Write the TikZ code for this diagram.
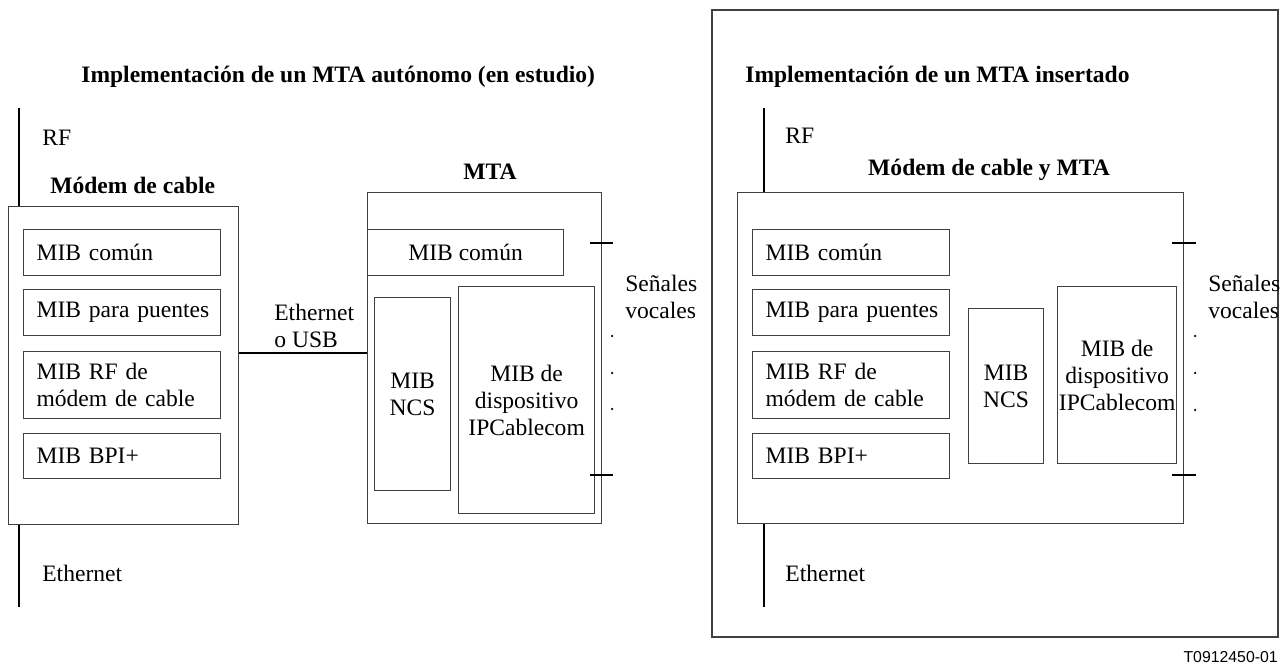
\documentclass[tikz,border=0pt]{standalone}
\usepackage{fontspec}
\setmainfont{Liberation Serif}
\newfontfamily\tagfont{Liberation Sans}
\usepackage{tikz}

\begin{document}
\begin{tikzpicture}[every node/.style={font=\fontsize{13.4}{15.4}\selectfont, inner sep=0pt},
				head/.style={font=\fontsize{13.4}{15.4}\selectfont\bfseries},
				box/.style={draw=black!75, line width=0.7pt, anchor=north west, align=center},
				mib/.style={box, text width=3.58cm, minimum width=3.94cm, inner xsep=0.18cm, align=left},
				wire/.style={line width=1.1pt},
				tickmark/.style={line width=1.1pt}]
				
				\useasboundingbox (0,0) rectangle (25.76,-13.32);
				
				% MTA autonomo
				\node[head, anchor=west] (t1) at (1.62,-1.54) {Implementación de un MTA autónomo (en estudio)};
				\node[anchor=west] (rf1) at (0.84,-2.76) {RF};
				\node[head, anchor=west] (l1) at (1.0,-3.70) {Módem de cable};
				\node[box, minimum width=4.6cm, minimum height=6.36cm] (cm) at (0.16,-4.12) {};
				\node[mib, minimum height=0.92cm] (cm1) at (0.46,-4.58) {\hspace*{0.08cm}MIB común};
				\node[mib, minimum height=0.92cm] (cm2) at (0.46,-5.78) {\hspace*{0.08cm}MIB para puentes};
				\node[mib, minimum height=1.34cm] (cm3) at (0.46,-7.02) {\hspace*{0.08cm}MIB RF de\\\hspace*{0.08cm}módem de cable};
				\node[mib, minimum height=0.90cm] (cm4) at (0.46,-8.66) {\hspace*{0.08cm}MIB BPI+};
				\node[anchor=west] (eth1) at (0.84,-11.46) {Ethernet};
				\coordinate (rfend1) at (0.38,-2.16);
				\coordinate (ethend1) at (0.38,-12.14);
				\draw[wire] (rfend1) -- (rfend1 |- cm.north);
				\draw[wire] (ethend1) -- (ethend1 |- cm.south);
				
				\node[anchor=west, align=left] (usb) at (5.48,-6.51) {Ethernet\\o USB};
				
				\node[head] (l2) at (9.80,-3.43) {MTA};
				\node[box, minimum width=4.68cm, minimum height=6.62cm] (mta) at (7.34,-3.84) {};
				\node[box, minimum width=3.92cm, minimum height=0.92cm] (mta1) at (7.34,-4.58) {MIB común};
				\node[box, minimum width=1.52cm, minimum height=3.86cm] (mta2) at (7.48,-5.94) {MIB\\NCS};
				\node[box, minimum width=2.72cm, minimum height=4.54cm] (mta3) at (9.16,-5.72) {MIB de\\dispositivo\\IPCablecom};
				\draw[line width=0.8pt] (cm.east |- 0,-7.06) -- (mta.west |- 0,-7.06);
				
				\node[anchor=west, align=left] (sv1) at (12.50,-5.93) {Señales\\vocales};
				\foreach \y in {-4.86,-9.50}
					\draw[tickmark] (11.80,\y) -- (12.26,\y);
				\foreach \y in {-6.72,-7.46,-8.18}
					\fill (12.24,\y) circle (0.025);
				
				% MTA insertado
				\draw[draw=black!75, line width=0.7pt] (14.24,-0.20) rectangle (25.56,-12.74);
				\node[head, anchor=west] (t2) at (14.90,-1.54) {Implementación de un MTA insertado};
				\node[anchor=west] (rf2) at (15.70,-2.72) {RF};
				\node[head] (l3) at (19.78,-3.40) {Módem de cable y MTA};
				\node[box, minimum width=8.92cm, minimum height=6.62cm] (emb) at (14.74,-3.84) {};
				\node[mib, minimum height=0.92cm] (emb1) at (15.04,-4.58) {\hspace*{0.08cm}MIB común};
				\node[mib, minimum height=0.92cm] (emb2) at (15.04,-5.78) {\hspace*{0.08cm}MIB para puentes};
				\node[mib, minimum height=1.34cm] (emb3) at (15.04,-7.02) {\hspace*{0.08cm}MIB RF de\\\hspace*{0.08cm}módem de cable};
				\node[mib, minimum height=0.90cm] (emb4) at (15.04,-8.66) {\hspace*{0.08cm}MIB BPI+};
				\node[box, minimum width=1.50cm, minimum height=3.10cm] (emb5) at (19.36,-6.16) {MIB\\NCS};
				\node[box, minimum width=2.38cm, minimum height=3.54cm] (emb6) at (21.14,-5.72) {MIB de\\dispositivo\\IPCablecom};
				\node[anchor=west] (eth2) at (15.70,-11.46) {Ethernet};
				\coordinate (rfend2) at (15.28,-2.16);
				\coordinate (ethend2) at (15.28,-12.14);
				\draw[wire] (rfend2) -- (rfend2 |- emb.north);
				\draw[wire] (ethend2) -- (ethend2 |- emb.south);
				
				\node[anchor=west, align=left] (sv2) at (24.16,-5.93) {Señales\\vocales};
				\foreach \y in {-4.86,-9.50}
					\draw[tickmark] (23.44,\y) -- (23.92,\y);
				\foreach \y in {-6.72,-7.46,-8.20}
					\fill (23.90,\y) circle (0.025);
				
				\node[anchor=east, font=\tagfont\fontsize{9}{10}\selectfont] (tag) at (25.56,-13.14) {T0912450-01};
			\end{tikzpicture}
\end{document}
